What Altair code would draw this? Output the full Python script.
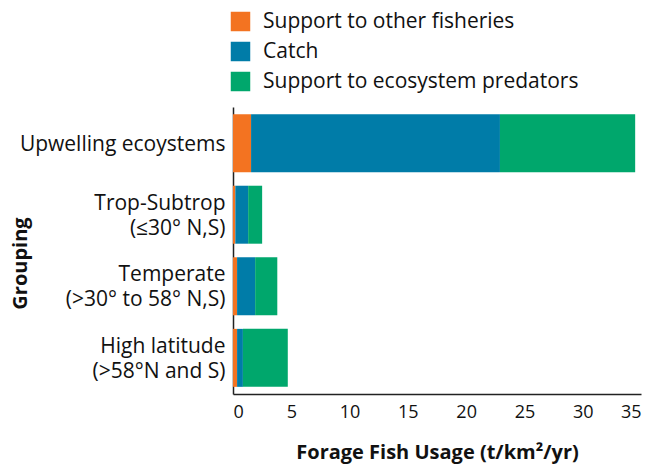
import altair as alt
import pandas as pd

groups = [
    "Upwelling ecoystems",
    "Trop-Subtrop|(≤30° N,S)",
    "Temperate|(>30° to 58° N,S)",
    "High latitude|(>58°N and S)",
]
components = ["Support to other fisheries", "Catch", "Support to ecosystem predators"]
support_fisheries = [1.55, 0.2, 0.35, 0.35]
catch = [21.35, 1.1, 1.55, 0.5]
support_predators = [11.6, 1.2, 1.9, 3.85]
colors = ["#F37321", "#007CA8", "#00A76C"]

rows = []
for i, g in enumerate(groups):
    for j, (c, vals) in enumerate(zip(components, [support_fisheries, catch, support_predators])):
        rows.append({"group": g, "component": c, "value": vals[i], "order": j})
df = pd.DataFrame(rows)

FONT = "Open Sans"

chart = alt.Chart(df).mark_bar().encode(
    x=alt.X("value:Q", stack="zero",
            scale=alt.Scale(domain=[0, 35], nice=False),
            axis=alt.Axis(title="Forage Fish Usage (t/km²/yr)", values=[0, 5, 10, 15, 20, 25, 30, 35],
                          ticks=False, grid=False, labelFontSize=18, labelPadding=9,
                          labelFont=FONT, labelColor="#111", domainColor="#222", domainWidth=1.5,
                          titleFont=FONT, titleFontSize=20, titleFontWeight="bold", titleColor="#111",
                          titleY=58, titleBaseline="middle")),
    y=alt.Y("group:N", sort=groups,
            scale=alt.Scale(paddingInner=0.19, paddingOuter=0.1),
            axis=alt.Axis(title="Grouping", ticks=False, labelFontSize=21, labelPadding=8,
                          labelFont=FONT, labelColor="#111", domainColor="#222", domainWidth=1.5,
                          labelExpr="split(datum.label, '|')", labelLineHeight=25, labelLimit=300,
                          labelOffset={"condition": {"test": "indexof(datum.value, '|') >= 0", "value": -11},
                                       "value": 2},
                          titleFont=FONT, titleFontSize=20, titleFontWeight="bold", titleColor="#111",
                          titleAngle=-90, titleX=-213, titleY=156, titleAlign="center",
                          titleBaseline="middle")),
    color=alt.Color("component:N", sort=components,
                    scale=alt.Scale(domain=components, range=colors),
                    legend=alt.Legend(title=None, orient="none", legendX=-3, legendY=-96,
                                      symbolType="square", symbolSize=380, symbolStrokeWidth=0,
                                      labelFontSize=21, labelFont=FONT, labelColor="#111",
                                      labelLimit=500, labelOffset=12, rowPadding=8, padding=0)),
    order=alt.Order("order:Q"),
).properties(
    width=408, height=287,
    autosize=alt.AutoSizeParams(type="none"),
    padding={"left": 225, "top": 99, "right": 6, "bottom": 70},
).configure_view(stroke=None)

chart.save("out.html", embed_options={"renderer": "svg", "actions": False})
